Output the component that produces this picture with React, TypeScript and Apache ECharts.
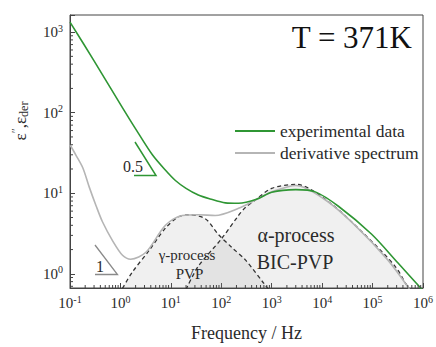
import React, { useEffect, useRef } from 'react';
import * as echarts from 'echarts';

// Experimental data (green)
const expFreq = [0.1, 0.3, 1, 2, 4.3, 8, 12.3, 20, 35, 60, 120, 220, 500, 1000, 3000, 7300, 21000, 96000, 320000, 1000000];
const expValues = [1330, 440, 127, 63, 30, 19, 14.4, 11.5, 9.5, 8.5, 7.6, 7.5, 8.4, 10.3, 11.1, 10.4, 6.9, 3.1, 1.36, 0.62];

// Derivative spectrum (gray)
const derFreq = [0.1, 0.13, 0.18, 0.24, 0.33, 0.44, 0.7, 1.1, 1.6, 3.2, 7.8, 16.7, 35.5, 76, 220, 480, 1000, 3000, 11500, 45000, 200000, 500000, 1000000];
const derValues = [40, 30, 20.6, 12, 6.95, 4.43, 2.57, 1.7, 1.52, 1.85, 4.0, 5.3, 5.4, 5.3, 6.5, 8.3, 10.4, 12.5, 8.3, 4.0, 1.49, 0.69, 0.35];

// gamma-process PVP (dashed)
const gammaFreq = [1.1, 1.7, 3.7, 7.8, 14, 22, 48, 88, 160, 300, 700, 1000];
const gammaValues = [0.66, 1.04, 1.95, 3.69, 5.07, 5.4, 4.84, 3.07, 2.14, 1.49, 0.76, 0.58];

// alpha-process BIC-PVP (dashed)
const alphaFreq = [20, 35, 100, 220, 300, 480, 1000, 3000, 13000, 70000, 280000, 500000, 1000000];
const alphaValues = [0.64, 1.24, 2.7, 5.3, 6.65, 8.3, 11.5, 12.9, 7.95, 3.07, 1.24, 0.69, 0.4];

const xMinorTicks = [
  0.2, 0.3, 0.4, 0.5, 0.6, 0.7, 0.8, 0.9,
  2, 3, 4, 5, 6, 7, 8, 9,
  20, 30, 40, 50, 60, 70, 80, 90,
  200, 300, 400, 500, 600, 700, 800, 900,
  2000, 3000, 4000, 5000, 6000, 7000, 8000, 9000,
  20000, 30000, 40000, 50000, 60000, 70000, 80000, 90000,
  200000, 300000, 400000, 500000, 600000, 700000, 800000, 900000,
];
const yMinorTicks = [
  0.7, 0.8, 0.9,
  2, 3, 4, 5, 6, 7, 8, 9,
  20, 30, 40, 50, 60, 70, 80, 90,
  200, 300, 400, 500, 600, 700, 800, 900,
];

const X_MIN = 0.1;
const X_MAX = 1000000;
const Y_MIN = 0.667;
const Y_MAX = 1630;

const SERIF = 'Liberation Serif';
const TXT = '#2a2a2a';
const GREEN = '#2f9634';
const GRAY = '#b5b5b5';

const pairs = (xs: number[], ys: number[]) => xs.map((x, i) => [x, ys[i]]);

const powLabel = (v: number) => {
  const l = Math.log10(v);
  const r = Math.round(l);
  if (Math.abs(l - r) > 1e-6) return '';
  return `{b|10}{s|${r}}`;
};

const makeLabelRich = () => ({
  b: { fontSize: 15, fontFamily: SERIF, color: TXT, lineHeight: 18 },
  s: { fontSize: 10, fontFamily: SERIF, color: TXT, lineHeight: 10, verticalAlign: 'top' },
});

const txt = (x: number, y: number, text: string, size: number, extra: any = {}) => ({
  type: 'text', x, y, z: 100,
  style: { text, fontFamily: SERIF, fontSize: size, fill: TXT, align: 'center', verticalAlign: 'middle', ...extra },
});

export default function App() {
  const ref = useRef<HTMLDivElement>(null);
  useEffect(() => {
    const chart = echarts.init(ref.current!, null, { renderer: 'svg' });
    const option: any = {
      animation: false,
      backgroundColor: '#ffffff',
      textStyle: { fontFamily: SERIF },
      grid: {
        left: 70, right: 10, top: 15, bottom: 44,
        show: true, borderColor: '#444', borderWidth: 1, backgroundColor: 'transparent',
      },
      legend: {
        data: [
          { name: 'experimental data', icon: 'rect' },
          { name: 'derivative spectrum', icon: 'rect' },
        ],
        orient: 'vertical',
        left: 230,
        top: 116,
        itemWidth: 40,
        itemHeight: 2,
        itemGap: 2,
        selectedMode: false,
        textStyle: { fontFamily: SERIF, fontSize: 17.5, color: TXT, lineHeight: 20 },
      },
      xAxis: {
        type: 'log',
        logBase: 10,
        min: X_MIN,
        max: X_MAX,
        name: 'Frequency / Hz',
        nameLocation: 'middle',
        nameGap: 36,
        nameTextStyle: { fontFamily: SERIF, fontSize: 18, color: TXT },
        axisLine: { lineStyle: { color: '#444', width: 1 } },
        axisTick: { inside: true, length: 5, lineStyle: { color: '#444' } },
        axisLabel: { formatter: powLabel, fontFamily: SERIF, rich: makeLabelRich(), margin: 6, showMinLabel: true, showMaxLabel: true },
        splitLine: { show: false },
      },
      yAxis: {
        type: 'log',
        logBase: 10,
        min: Y_MIN,
        max: Y_MAX,
        axisLine: { lineStyle: { color: '#444', width: 1 } },
        axisTick: { inside: true, length: 5, lineStyle: { color: '#444' } },
        axisLabel: { formatter: powLabel, fontFamily: SERIF, rich: makeLabelRich(), margin: 7 },
        splitLine: { show: false },
      },
      graphic: [
        {
          type: 'text', x: 20, y: 121, rotation: Math.PI / 2,
          style: {
            text: '{a|ε}{p|″}{a|,ε}{d|der}',
            fontFamily: SERIF,
            align: 'center', verticalAlign: 'middle',
            rich: {
              a: { fontFamily: SERIF, fontSize: 17, fill: TXT, lineHeight: 20 },
              p: { fontFamily: SERIF, fontSize: 12, fill: TXT, lineHeight: 12, verticalAlign: 'top' },
              d: { fontFamily: SERIF, fontSize: 12, fill: TXT, lineHeight: 12, verticalAlign: 'bottom' },
            },
          },
        },
        txt(412, 37, 'T = 371K', 31, { align: 'right', fill: '#111' }),
        txt(133, 166, '0.5', 16),
        {
          type: 'polyline', shape: { points: [[135, 142], [156, 175.5], [134, 175.5]] },
          style: { stroke: GREEN, lineWidth: 1.5, fill: null },
        },
        txt(100, 266, '1', 16),
        {
          type: 'polyline', shape: { points: [[95, 245], [117.5, 274.5], [95, 274.5]] },
          style: { stroke: '#8a8a8a', lineWidth: 1.3, fill: null },
        },
        txt(187, 255, 'γ-process', 15),
        txt(189.5, 274, 'PVP', 15),
        txt(296, 235, 'α-process', 20),
        txt(295, 261.5, 'BIC-PVP', 20),
      ],
      series: [
        {
          name: 'γ-process PVP',
          type: 'line',
          data: pairs(gammaFreq, gammaValues),
          smooth: 0.3,
          symbol: 'none',
          lineStyle: { color: '#333', width: 1.3, type: [4, 3] },
          itemStyle: { color: '#333' },
          areaStyle: { color: 'rgba(150,150,150,0.2)', origin: 'start' },
          z: 1,
        },
        {
          name: 'α-process BIC-PVP',
          type: 'line',
          data: pairs(alphaFreq, alphaValues),
          smooth: 0.3,
          symbol: 'none',
          lineStyle: { color: '#333', width: 1.3, type: [4, 3] },
          itemStyle: { color: '#333' },
          areaStyle: { color: 'rgba(150,150,150,0.2)', origin: 'start' },
          z: 1,
        },
        {
          name: 'derivative spectrum',
          type: 'line',
          data: pairs(derFreq, derValues),
          smooth: 0.3,
          symbol: 'none',
          lineStyle: { color: GRAY, width: 1.6 },
          itemStyle: { color: GRAY },
          z: 2,
        },
        {
          name: 'experimental data',
          type: 'line',
          data: pairs(expFreq, expValues),
          smooth: 0.3,
          symbol: 'none',
          lineStyle: { color: GREEN, width: 1.6 },
          itemStyle: { color: GREEN },
          z: 3,
        },
        {
          type: 'custom',
          silent: true,
          clip: false,
          z: 5,
          data: xMinorTicks.map((v) => [v, 1]),
          renderItem: (params: any, api: any) => {
            const x = api.coord([api.value(0), 1])[0];
            const cs = params.coordSys;
            const yb = cs.y + cs.height;
            return {
              type: 'line',
              shape: { x1: x, y1: yb, x2: x, y2: yb - 3 },
              style: { stroke: '#444', lineWidth: 1 },
            };
          },
        },
        {
          type: 'custom',
          silent: true,
          clip: false,
          z: 5,
          data: yMinorTicks.map((v) => [1, v]),
          renderItem: (params: any, api: any) => {
            const y = api.coord([1, api.value(1)])[1];
            const cs = params.coordSys;
            return {
              type: 'line',
              shape: { x1: cs.x, y1: y, x2: cs.x + 3, y2: y },
              style: { stroke: '#444', lineWidth: 1 },
            };
          },
        },
      ],
    };
    chart.setOption(option);
    return () => chart.dispose();
  }, []);
  return <div ref={ref} style={{ position: 'absolute', left: 0, top: 0, width: 436, height: 347 }} />;
}
